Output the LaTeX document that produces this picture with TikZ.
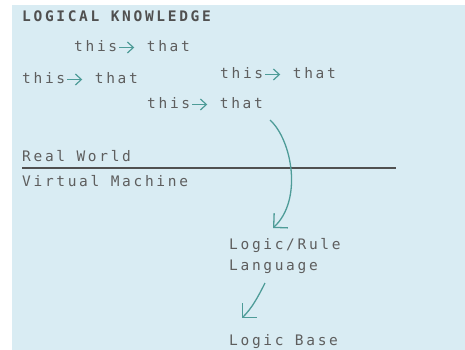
\documentclass[tikz,border=0pt]{standalone}
\usepackage{fontspec}
\setmonofont[LetterSpace=18.5]{DejaVu Sans Mono}
\usetikzlibrary{arrows.meta}

\definecolor{bgblue}{HTML}{D9ECF3}
\definecolor{inkgray}{HTML}{5E5E5E}
\definecolor{titlegray}{HTML}{505050}
\definecolor{arrowteal}{HTML}{4E9C98}

% small teal arrow set inside the rule texts
\newcommand\rarr{\hspace{1.5pt}\tikz[baseline=-4.5pt]\draw[arrowteal,line width=1.2pt,-{Straight Barb[length=6pt,width=11pt]}] (0,0) -- (15pt,0);\hspace{12pt}}

\tikzset{
  txt/.style={anchor=base west,inner sep=0pt,text=inkgray,
    font=\ttfamily\fontsize{14.5}{21.5}\selectfont},
  ttl/.style={txt,text=titlegray,font=\ttfamily\bfseries\fontsize{14.5}{15}\selectfont},
  flow/.style={draw=arrowteal,line width=1.3pt,-{Straight Barb[length=10pt,width=20pt]}}
}

\begin{document}
\begin{tikzpicture}[x=1pt,y=-1pt]

\useasboundingbox (0,0) rectangle (465,350);
\fill[bgblue] (12,5) rectangle (465,350);

\node[ttl](title) at (22,22) {LOGICAL KNOWLEDGE};

\node[txt](rule a) at (74,52) {this\rarr that};
\node[txt](rule b) at (22,84) {this\rarr that};
\node[txt](rule c) at (220,79) {this\rarr that};
\node[txt](rule d) at (147,109) {this\rarr that};

\node[txt](real) at (22,161) {Real World};
\node[txt](virtual) at (22,186) {Virtual Machine};

\draw[titlegray,line width=2pt] (22,168) -- (396,168);

\node[txt,align=left](lang) at (229,270.5) {Logic/Rule\\Language};

\node[txt](base) at (229,345) {Logic Base};

\draw[flow] ([shift={(123,11)}]rule d.base west) .. controls +(22,20) and +(30,-28) .. ([shift={(44,-42.5)}]lang.base west);
\draw[flow] ([shift={(36,12.5)}]lang.base west) .. controls +(-7,14) and +(10,-10) .. ([shift={(13,-27)}]base.base west);

\end{tikzpicture}
\end{document}
